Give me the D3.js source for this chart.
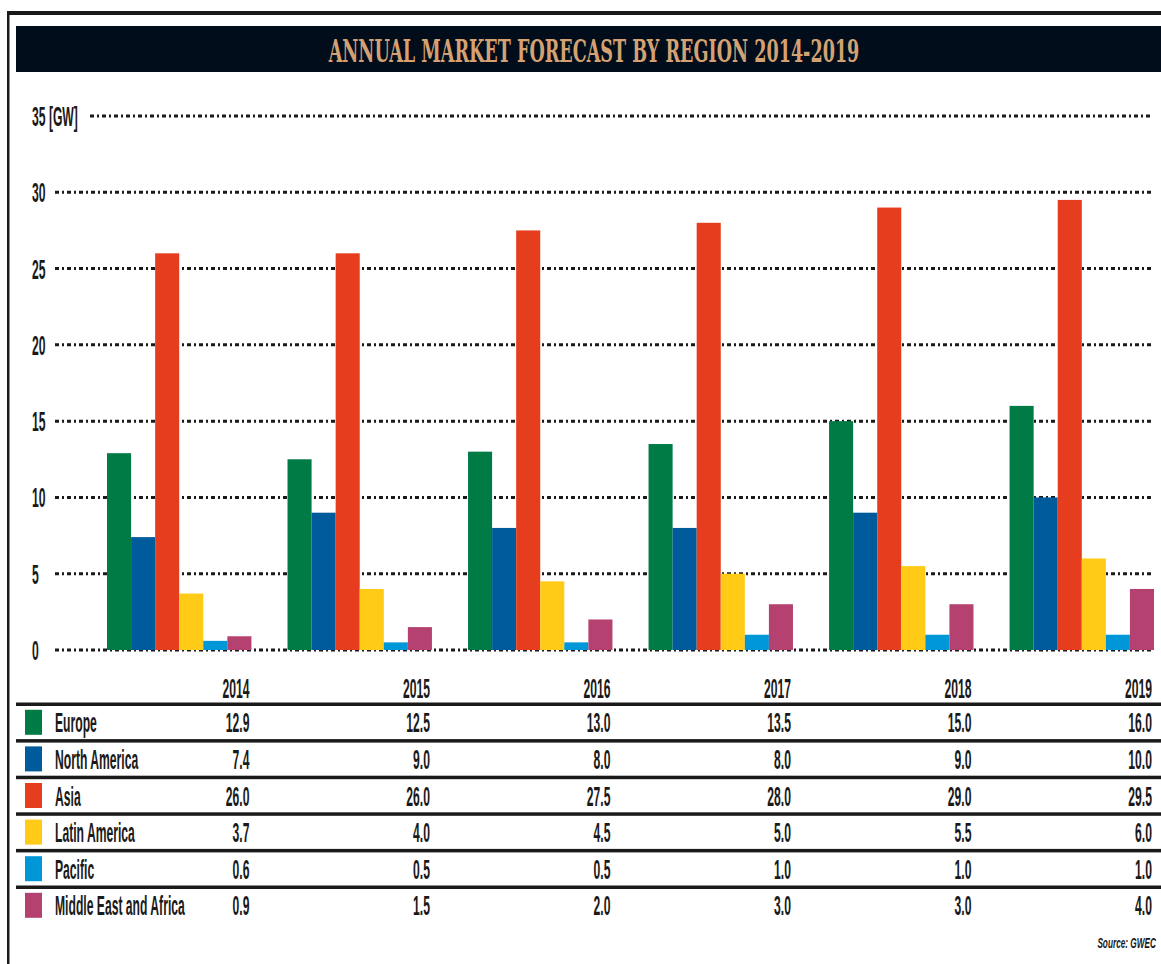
<!DOCTYPE html>
<html>
<head>
<meta charset="utf-8">
<script src="https://cdn.jsdelivr.net/npm/d3@7"></script>
<style>
  body { margin: 0; background: #fff; }
  svg { display: block; }
</style>
</head>
<body>
<div id="viz"></div>
<script>
// chart data
var years = ["2014", "2015", "2016", "2017", "2018", "2019"];
var regions = ["Europe", "North America", "Asia", "Latin America", "Pacific", "Middle East and Africa"];
var regionColors = ["#007b46", "#005b9c", "#e63d1e", "#ffcb17", "#0097d8", "#b4416f"];
var europe = [12.9, 12.5, 13.0, 13.5, 15.0, 16.0];
var northAmerica = [7.4, 9.0, 8.0, 8.0, 9.0, 10.0];
var asia = [26.0, 26.0, 27.5, 28.0, 29.0, 29.5];
var latinAmerica = [3.7, 4.0, 4.5, 5.0, 5.5, 6.0];
var pacific = [0.6, 0.5, 0.5, 1.0, 1.0, 1.0];
var middleEastAfrica = [0.9, 1.5, 2.0, 3.0, 3.0, 4.0];
var yTicks = [0, 5, 10, 15, 20, 25, 30, 35];

var seriesValues = [europe, northAmerica, asia, latinAmerica, pacific, middleEastAfrica];

var width = 1161, height = 964;
var condense = 0.45;   // the print font is very narrow

const svg = d3.select("#viz")
  .append("svg")
  .attr("width", width)
  .attr("height", height);

// helper for squeezed text
function narrowText(x, y, str, anchor, size, sx)
{
  return svg.append("text")
    .attr("transform", "translate(" + x + "," + y + ") scale(" + (sx || condense) + ",1)")
    .attr("text-anchor", anchor || "start")
    .style("font-family", "'Liberation Sans', Arial, sans-serif")
    .style("font-weight", "bold")
    .style("font-size", (size || 27) + "px")
    .style("fill", "#1a1a1a")
    .text(str);
}

// frame
svg.append("rect").attr("x", 7).attr("y", 11).attr("width", width - 7).attr("height", 4).attr("fill", "#1a1a1a");
svg.append("rect").attr("x", 7).attr("y", 11).attr("width", 2.5).attr("height", height - 11).attr("fill", "#1a1a1a");

// title band
svg.append("rect").attr("x", 16).attr("y", 26).attr("width", width - 16).attr("height", 46).attr("fill", "#020d1b");
var title = svg.append("text")
  .attr("text-anchor", "middle")
  .style("font-family", "'DejaVu Serif', serif")
  .style("font-weight", "bold")
  .style("font-size", "31px")
  .style("fill", "#d4a272")
  .text("ANNUAL MARKET FORECAST BY REGION 2014-2019");
var tw = title.node().getComputedTextLength();
title.attr("transform", "translate(594,62) scale(" + (531 / tw) + ",1)");

// scales
var y = d3.scaleLinear().domain([0, 35]).range([650, 116]);
var x0 = d3.scaleBand().domain(years).range([107, 1154]).paddingInner(0.2).paddingOuter(0);
var x1 = d3.scaleBand().domain(regions).range([0, x0.bandwidth()]).padding(0);

// dotted gridlines + labels
yTicks.forEach(function(t)
{
  var startX = (t == 35) ? 90 : 55;
  svg.append("line")
    .attr("x1", startX).attr("x2", 1152)
    .attr("y1", y(t)).attr("y2", y(t))
    .attr("stroke", "#1a1a1a")
    .attr("stroke-width", 3)
    .attr("stroke-dasharray", "4,3,2,3");
  narrowText(32, y(t) + 10, t == 35 ? "35 [GW]" : String(t));
});

// bars
var groups = svg.selectAll(".year")
  .data(years)
  .enter()
  .append("g")
  .attr("class", "year")
  .attr("transform", function(d) { return "translate(" + x0(d) + ",0)"; });

groups.selectAll("rect")
  .data(function(d, i)
  {
    return regions.map(function(r, j) { return {region: r, value: seriesValues[j][i], color: regionColors[j]}; });
  })
  .enter()
  .append("rect")
  .attr("x", function(d) { return x1(d.region); })
  .attr("y", function(d) { return y(d.value); })
  .attr("width", x1.bandwidth())
  .attr("height", function(d) { return y(0) - y(d.value); })
  .attr("fill", function(d) { return d.color; });

// year header over the table, right aligned with each group
years.forEach(function(yr)
{
  narrowText(x0(yr) + x0.bandwidth() - 2, 698, yr, "end");
});

// table rows
var rowScale = d3.scaleBand().domain(regions).range([704, 704 + 6 * 36.6]);

regions.forEach(function(r, j)
{
  var top = rowScale(r);
  var mid = top + rowScale.bandwidth() / 2;
  svg.append("rect").attr("x", 16).attr("y", top - 1.5).attr("width", width - 16).attr("height", 3.5).attr("fill", "#1a1a1a");
  svg.append("rect").attr("x", 25).attr("y", mid - 12.5).attr("width", 17).attr("height", 25).attr("fill", regionColors[j]);
  narrowText(55, mid + 10, r);
  years.forEach(function(yr, i)
  {
    narrowText(x0(yr) + x0.bandwidth() - 2, mid + 10, seriesValues[j][i].toFixed(1), "end");
  });
});

// source note
narrowText(1156, 948, "Source: GWEC", "end", 15, 0.55).style("font-style", "italic");
</script>
</body>
</html>
